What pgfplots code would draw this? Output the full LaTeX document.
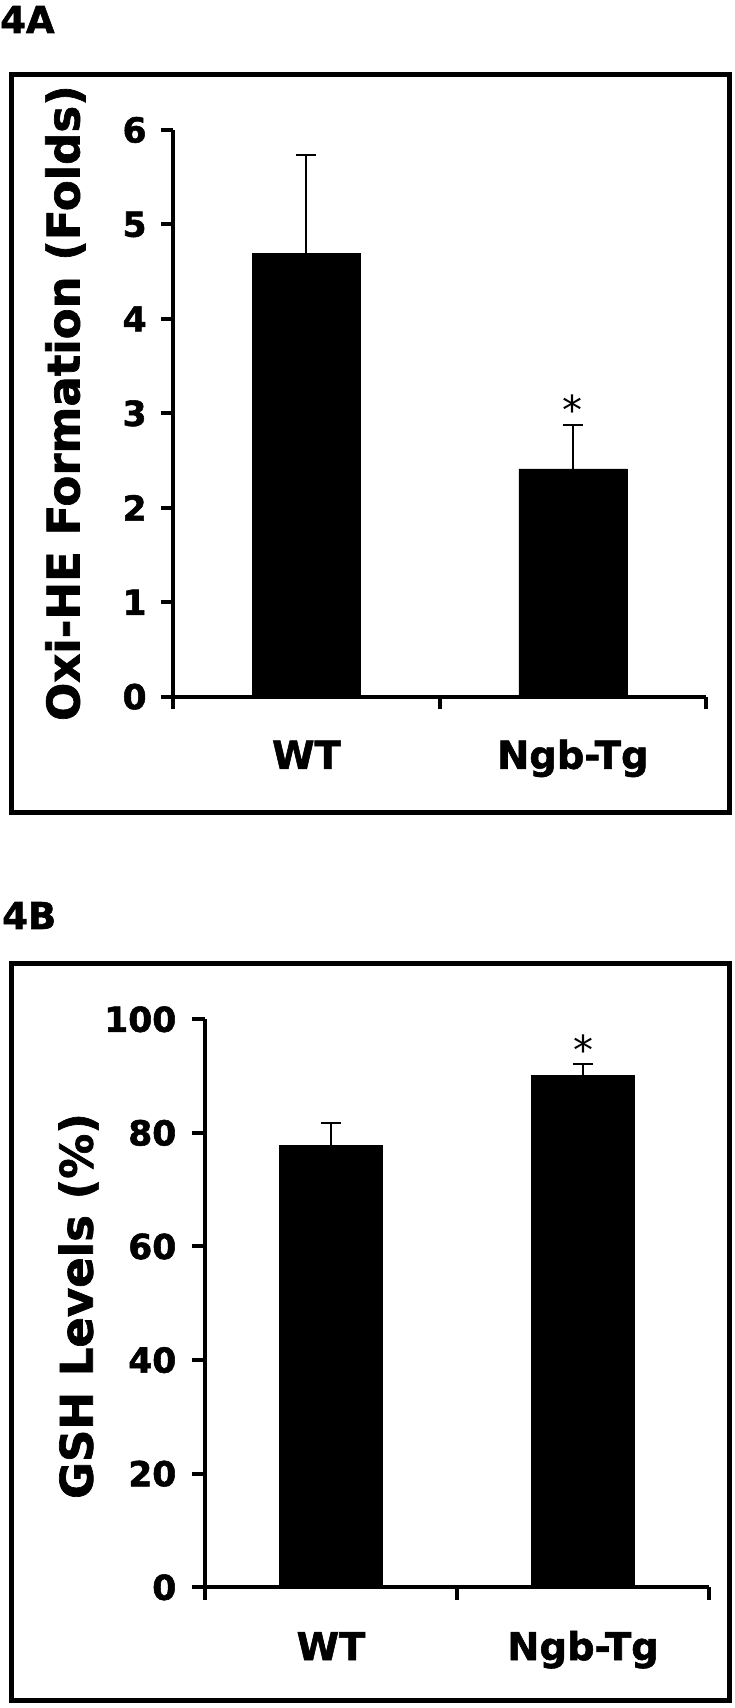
\documentclass[border=0pt]{standalone}
\usepackage{fontspec}
\setmainfont{DejaVu Sans}[BoldFeatures={FakeBold=1.5}]
\usepackage{pgfplots}
\pgfplotsset{compat=1.18}
\newcommand\tickfont{\fontsize{34.5}{40}\selectfont\bfseries}
\newcommand\catfont{\fontsize{38.5}{44}\selectfont\bfseries}
\newcommand\labfont{\fontsize{45}{50}\selectfont\bfseries}
\newcommand\panelfont{\fontsize{37}{42}\selectfont\bfseries}
\newcommand\starfont{\fontsize{40}{44}\selectfont}
\pgfplotsset{
  barfig/.style={
    scale only axis, clip=false,
    xmin=0, xmax=2, ymin=0,
    axis x line=bottom, axis y line=left,
    axis line style={-, line width=4pt, black},
    xtick={0,1,2}, x tick label as interval, xticklabels={WT,Ngb-Tg},
    tick align=outside, major tick length=12.5pt,
    tick style={line width=4pt, black},
    /pgf/number format/assume math mode=true,
    yticklabel style={font=\tickfont, anchor=east, inner sep=0pt},
    xticklabel style={font=\catfont, anchor=base, inner sep=0pt},
    ylabel style={font=\labfont, anchor=base},
  }
}
\begin{document}
\begin{tikzpicture}[x=1pt,y=1pt]
\useasboundingbox (0,0) rectangle (735,1708);
\draw[line width=5pt] (11.7,895) rectangle (729,1633);
\draw[line width=5pt] (11.7,7.7) rectangle (729.3,744.5);
\node[anchor=base west, inner sep=0pt, font=\panelfont] at (0,1675) {4A};
\node[anchor=base west, inner sep=0pt, font=\panelfont] at (2,779) {4B};

% Panel A
\begin{axis}[barfig,
  at={(173.3pt,1011.3pt)}, anchor=south west,
  width=532.7pt, height=566.7pt,
  ymax=6, ytick={0,1,2,3,4,5,6},
  ylabel={Oxi-HE Formation (Folds)},
  ylabel style={at={(axis description cs:-0.1761,0.518)}},
  yticklabel style={xshift=-14pt},
  xticklabel style={yshift=-59.6pt},
]
\addplot[ybar, bar width=108pt, fill=black, draw=black, line width=0.5pt,
  error bars/.cd, y dir=plus, y explicit,
  error bar style={line width=2pt, draw=black},
  error mark options={rotate=90, mark size=10pt, line width=2pt, draw=black}]
  coordinates {(0.5,4.69) +- (0,1.04) (1.5,2.413) +- (0,0.465)};
\node[anchor=base, inner sep=0pt, font=\starfont] at (axis cs:1.5,2.878) {*};
\end{axis}

% Panel B
\begin{axis}[barfig,
  at={(205pt,120.7pt)}, anchor=south west,
  width=504pt, height=568pt,
  ymax=100, ytick={0,20,40,60,80,100},
  ylabel={GSH Levels (\%)},
  ylabel style={at={(axis description cs:-0.2228,0.4952)}},
  yticklabel style={xshift=-16pt},
  xticklabel style={yshift=-60.4pt},
]
\addplot[ybar, bar width=103.3pt, fill=black, draw=black, line width=0.5pt,
  error bars/.cd, y dir=plus, y explicit,
  error bar style={line width=2pt, draw=black},
  error mark options={rotate=90, mark size=10pt, line width=2pt, draw=black}]
  coordinates {(0.5,77.8) +- (0,3.86) (1.5,90.07) +- (0,2.03)};
\node[anchor=base, inner sep=0pt, font=\starfont] at (axis cs:1.5,92.1) {*};
\end{axis}
\end{tikzpicture}
\end{document}
